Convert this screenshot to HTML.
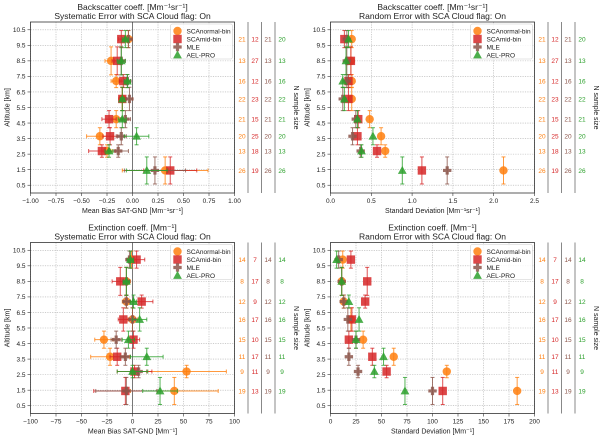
<!DOCTYPE html>
<html><head><meta charset="utf-8"><style>
body{margin:0;background:#fff}
svg{display:block;font-family:"Liberation Sans","DejaVu Sans",sans-serif}
</style></head><body>
<svg id="fig" width="600" height="436" viewBox="0 0 600 436" xmlns="http://www.w3.org/2000/svg"></svg>
<script>
const altitudes=[9.9,8.5,7.2,6.05,4.75,3.65,2.7,1.45];
const altErr=[0.55,0.9,0.42,0.75,0.55,0.55,0.4,0.87];
const yTicks=[0.5,1.5,2.5,3.5,4.5,5.5,6.5,7.5,8.5,9.5,10.5];
const seriesNames=["SCAnormal-bin","SCAmid-bin","MLE","AEL-PRO"];
// Panel 1: backscatter bias
const bscBiasOrange=[-0.04,-0.21,-0.16,-0.10,-0.16,-0.32,-0.25,0.32];
const bscBiasRed=[-0.11,-0.15,-0.09,-0.10,-0.23,-0.22,-0.30,0.37];
const bscBiasBrown=[-0.04,-0.11,-0.05,-0.03,-0.07,-0.11,-0.14,0.22];
const bscBiasGreen=[-0.07,-0.11,-0.05,-0.10,-0.10,0.04,-0.23,0.14];
const bscBiasErrOrange=[0.04,0.06,0.05,0.03,0.05,0.13,0.05,0.42];
const bscBiasErrRed=[0.03,0.05,0.04,0.03,0.07,0.07,0.13,0.26];
const bscBiasErrBrown=[0.04,0.04,0.03,0.03,0.05,0.05,0.10,0.30];
const bscBiasErrGreen=[0.03,0.04,0.03,0.02,0.04,0.12,0.04,0.20];
// Panel 2: backscatter SD
const bscSdOrange=[0.26,0.25,0.26,0.26,0.48,0.62,0.67,2.12];
const bscSdRed=[0.17,0.25,0.22,0.22,0.34,0.33,0.57,1.12];
const bscSdBrown=[0.20,0.20,0.20,0.15,0.31,0.27,0.37,1.43];
const bscSdGreen=[0.22,0.19,0.15,0.17,0.33,0.52,0.38,0.88];
// Panel 3: extinction bias
const extBiasOrange=[-1,-6,-6,0,-28,-22,53,41];
const extBiasRed=[4,-12,9,-9,1,-15,2,-7];
const extBiasBrown=[-3,-6,-6,0,-16,-7,6,-6];
const extBiasGreen=[-2,-6,1,7,-4,14,0,27];
const extBiasErrOrange=[2,4,4,5,9,19,39,43];
const extBiasErrRed=[8,8,11,5,6,7,17,31];
const extBiasErrBrown=[3,3,3,3,5,5,8,30];
const extBiasErrGreen=[3,3,3,7,6,16,15,17];
// Panel 4: extinction SD
const extSdOrange=[12,11,13,20,32,62,114,183];
const extSdRed=[20,36,34,21,18,41,55,110];
const extSdBrown=[8,11,13,17,25,18,27,100];
const extSdGreen=[6,11,18,28,25,52,43,73];
// N sample sizes
const nBsc=[[21,12,21,20],[13,27,13,13],[16,12,16,16],[22,23,22,22],[21,15,21,21],[20,25,20,20],[13,18,13,13],[26,19,26,26]];
const nExt=[[14,7,14,14],[8,17,8,8],[12,9,12,12],[16,17,16,16],[15,10,15,15],[11,17,11,11],[9,11,9,9],[19,13,19,19]];
const ticksBscBias=["−1.00","−0.75","−0.50","−0.25","0.00","0.25","0.50","0.75","1.00"];
const ticksBscSd=["0.0","0.5","1.0","1.5","2.0","2.5"];
const ticksExtBias=["−100","−75","−50","−25","0","25","50","75","100"];
const ticksExtSd=["0","25","50","75","100","125","150","175","200"];

const colors=["#ff7f0e","#d62728","#8c564b","#2ca02c"];
const NS="http://www.w3.org/2000/svg";
const fig=document.getElementById('fig');
function mk(tag,attrs,parent,text){const e=document.createElementNS(NS,tag);for(const k in attrs)e.setAttribute(k,attrs[k]);if(text!==undefined)e.textContent=text;(parent||fig).appendChild(e);return e;}

function marker(g,kind,cx,cy,col){
  let e;
  if(kind===0){e=mk('circle',{cx:cx,cy:cy,r:4.2,fill:col,'fill-opacity':0.85},g);}
  else if(kind===1){e=mk('rect',{x:cx-4.2,y:cy-4.2,width:8.4,height:8.4,fill:col,'fill-opacity':0.85},g);}
  else if(kind===2){const a=1.6,b=4.2;e=mk('path',{d:`M${cx-a},${cy-b}h${2*a}v${b-a}h${b-a}v${2*a}h${-(b-a)}v${b-a}h${-2*a}v${-(b-a)}h${-(b-a)}v${-2*a}h${b-a}z`,fill:col,'fill-opacity':0.85},g);}
  else {e=mk('path',{d:`M${cx},${cy-4.6}L${cx+4.4},${cy+3.4}L${cx-4.4},${cy+3.4}Z`,fill:col,'fill-opacity':0.85},g);}
  return e;
}

function panel(cfg){
  const g=mk('g',{});
  
  
  const L=cfg.ox+30.5,R=cfg.ox+234.5,T=cfg.T,B=cfg.B;
  const xs=v=>L+(v-cfg.xmin)/(cfg.xmax-cfg.xmin)*(R-L);
  const ys=v=>B-(v-0)/11*(B-T);
  // title
  const t1=mk('text',{x:(L+R)/2,y:T-12,'text-anchor':'middle','font-size':8.5,fill:'#222'},g,cfg.title1);
  
  const t2=mk('text',{x:(L+R)/2,y:T-3,'text-anchor':'middle','font-size':8.5,fill:'#222'},g,cfg.title2);
  
  // grid & x ticks
  cfg.ticks.forEach((lab,i)=>{
    const v=cfg.xmin+i*(cfg.xmax-cfg.xmin)/(cfg.ticks.length-1);
    const x=xs(v);
    mk('line',{x1:x,x2:x,y1:T,y2:B,stroke:'#b0b0b0','stroke-width':0.6,'stroke-dasharray':'1.2,1.2'},g);
    mk('line',{x1:x,x2:x,y1:B,y2:B+3,stroke:'#333','stroke-width':0.6},g);
    const tl=mk('text',{x:x,y:B+10,'text-anchor':'middle','font-size':6.5,fill:'#222'},g,lab);
    
  });
  yTicks.forEach(v=>{
    const y=ys(v);
    mk('line',{x1:L,x2:R,y1:y,y2:y,stroke:'#b0b0b0','stroke-width':0.6,'stroke-dasharray':'1.2,1.2'},g);
    mk('line',{x1:L-3,x2:L,y1:y,y2:y,stroke:'#333','stroke-width':0.6},g);
    const tl=mk('text',{x:L-5,y:y+2.3,'text-anchor':'end','font-size':6.5,fill:'#222'},g,String(v));
    
  });
  if(cfg.zero){mk('line',{x1:xs(0),x2:xs(0),y1:T,y2:B,stroke:'#777','stroke-width':1},g);}
  mk('rect',{x:L,y:T,width:R-L,height:B-T,fill:'none',stroke:'#333','stroke-width':0.8},g);
  const xl=mk('text',{x:(L+R)/2,y:B+20,'text-anchor':'middle','font-size':7,fill:'#222'},g,cfg.xlabel);
  
  const yl=mk('text',{x:0,y:0,'text-anchor':'middle','font-size':7,fill:'#222',transform:`translate(${L-21},${(T+B)/2}) rotate(-90)`},g,'Altitude [km]');
  
  // series
  cfg.vals.forEach((arr,s)=>{
    const sg=mk('g',{},g);
    
    
    arr.forEach((v,i)=>{
      const x=xs(v),y=ys(altitudes[i]);
      const y1=ys(altitudes[i]+altErr[i]),y2=ys(altitudes[i]-altErr[i]);
      const c=colors[s];
      mk('line',{x1:x,x2:x,y1:y1,y2:y2,stroke:c,'stroke-width':1,'stroke-opacity':0.8},sg);
      mk('line',{x1:x-2,x2:x+2,y1:y1,y2:y1,stroke:c,'stroke-width':1,'stroke-opacity':0.8},sg);
      mk('line',{x1:x-2,x2:x+2,y1:y2,y2:y2,stroke:c,'stroke-width':1,'stroke-opacity':0.8},sg);
      if(cfg.errs){
        const e=cfg.errs[s][i],xa=xs(v-e),xb=xs(v+e);
        mk('line',{x1:xa,x2:xb,y1:y,y2:y,stroke:c,'stroke-width':1,'stroke-opacity':0.8},sg);
        mk('line',{x1:xa,x2:xa,y1:y-2,y2:y+2,stroke:c,'stroke-width':1,'stroke-opacity':0.8},sg);
        mk('line',{x1:xb,x2:xb,y1:y-2,y2:y+2,stroke:c,'stroke-width':1,'stroke-opacity':0.8},sg);
      }
      const m=marker(sg,s,x,y,c);
      
      
    });
  });
  // legend
  const lg=mk('g',{},g);
  
  mk('rect',{x:R-64,y:T+2,width:62,height:35,rx:2,fill:'#fff','fill-opacity':0.85,stroke:'#ccc','stroke-width':0.6},lg);
  seriesNames.forEach((n,s)=>{
    const ey=T+9+s*8;
    const ent=mk('g',{},lg);
    
    marker(ent,s,R-57,ey,colors[s]);
    mk('text',{x:R-48,y:ey+2.3,'font-size':6.5,fill:'#222'},ent,n);
  });
  // N columns
  const colX=[cfg.ox+242,cfg.ox+255,cfg.ox+268,cfg.ox+282];
  [cfg.ox+248,cfg.ox+261.5,cfg.ox+275].forEach(x=>mk('line',{x1:x,x2:x,y1:T,y2:B,stroke:'#888','stroke-width':1},g));
  cfg.n.forEach((row,i)=>{
    row.forEach((v,s)=>{
      const tt=mk('text',{x:colX[s],y:ys(altitudes[i])+2.3,'text-anchor':'middle','font-size':6.5,fill:colors[s]},g,String(v));
      
    });
  });
  const nl=mk('text',{x:0,y:0,'text-anchor':'middle','font-size':7,fill:'#222',transform:`translate(${cfg.ox+294},${(T+B)/2}) rotate(90)`},g,'N sample size');
  
}

panel({name:'backscatter-bias-panel',ox:0,T:22,B:193,xmin:-1,xmax:1,ticks:ticksBscBias,zero:true,
 title1:'Backscatter coeff. [Mm⁻¹sr⁻¹]',title2:'Systematic Error with SCA Cloud flag: On',xlabel:'Mean Bias SAT-GND [Mm⁻¹sr⁻¹]',
 vals:[bscBiasOrange,bscBiasRed,bscBiasBrown,bscBiasGreen],errs:[bscBiasErrOrange,bscBiasErrRed,bscBiasErrBrown,bscBiasErrGreen],n:nBsc});
panel({name:'backscatter-sd-panel',ox:300,T:22,B:193,xmin:0,xmax:2.5,ticks:ticksBscSd,zero:false,
 title1:'Backscatter coeff. [Mm⁻¹sr⁻¹]',title2:'Random Error with SCA Cloud flag: On',xlabel:'Standard Deviation [Mm⁻¹sr⁻¹]',
 vals:[bscSdOrange,bscSdRed,bscSdBrown,bscSdGreen],errs:null,n:nBsc});
panel({name:'extinction-bias-panel',ox:0,T:242.5,B:413.5,xmin:-100,xmax:100,ticks:ticksExtBias,zero:true,
 title1:'Extinction coeff. [Mm⁻¹]',title2:'Systematic Error with SCA Cloud flag: On',xlabel:'Mean Bias SAT-GND [Mm⁻¹]',
 vals:[extBiasOrange,extBiasRed,extBiasBrown,extBiasGreen],errs:[extBiasErrOrange,extBiasErrRed,extBiasErrBrown,extBiasErrGreen],n:nExt});
panel({name:'extinction-sd-panel',ox:300,T:242.5,B:413.5,xmin:0,xmax:200,ticks:ticksExtSd,zero:false,
 title1:'Extinction coeff. [Mm⁻¹]',title2:'Random Error with SCA Cloud flag: On',xlabel:'Standard Deviation [Mm⁻¹]',
 vals:[extSdOrange,extSdRed,extSdBrown,extSdGreen],errs:null,n:nExt});
</script>
</body></html>
